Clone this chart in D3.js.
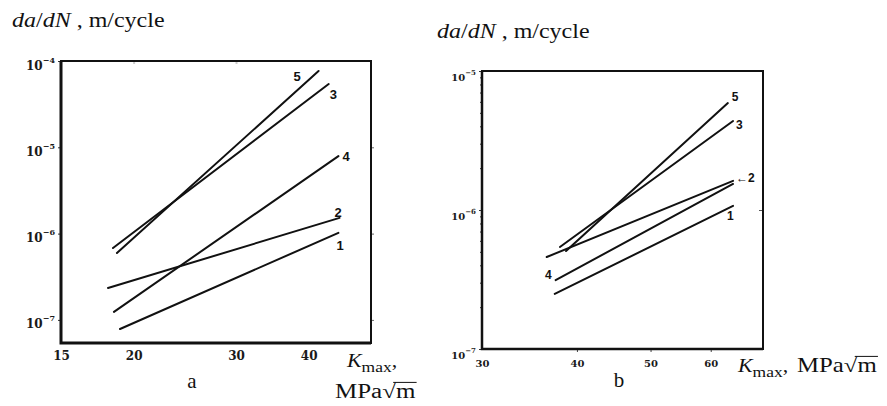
<!DOCTYPE html>
<meta charset="utf-8">
<title>da/dN vs Kmax</title>
<style>

body {
  margin: 0;
  background: #fff;
}

svg {
  display: block;
}

.serif {
  font-family: "Liberation Serif", "Times New Roman", serif;
  fill: #111;
}

.tick text {
  font-family: "DejaVu Serif", serif;
  font-weight: bold;
  fill: #1a1a1a;
}

.curve-lbl {
  font-family: "Liberation Sans", Arial, sans-serif;
  font-weight: bold;
  fill: #111;
}

</style>
<svg width="887" height="406"></svg>
<script src="https://d3js.org/d3.v7.min.js"></script>
<script>
  // curve numbers
  var curves = ["1", "2", "3", "4", "5"]

  // panel a : K_max (MPa sqrt m) and da/dN (m/cycle) at both ends of each curve
  var kStartA = [18.95, 18.07, 18.43, 18.5, 18.72]
  var kEndA = [45.0, 45.2, 43.3, 45.0, 41.6]
  var rateStartA = [7.85e-8, 2.34e-7, 6.8e-7, 1.24e-7, 5.96e-7]
  var rateEndA = [1.02e-6, 1.52e-6, 5.41e-5, 7.9e-6, 7.66e-5]
  var xTicksA = [15, 20, 30, 40]
  var yTicksA = [1e-4, 1e-5, 1e-6, 1e-7]

  // panel b
  var kStartB = [37.4, 36.5, 37.99, 37.5, 38.7]
  var kEndB = [64.2, 64.2, 64.2, 64.2, 63.2]
  var rateStartB = [2.49e-7, 4.59e-7, 5.42e-7, 3.13e-7, 5.07e-7]
  var rateEndB = [1.07e-6, 1.62e-6, 4.37e-6, 1.54e-6, 5.88e-6]
  var xTicksB = [30, 40, 50, 60]
  var yTicksB = [1e-5, 1e-6, 1e-7]

  var svg = d3.select("svg")

  var panels = [
    {
      name: "a",
      kStart: kStartA, kEnd: kEndA, rStart: rateStartA, rEnd: rateEndA,
      xTicks: xTicksA, yTicks: yTicksA,
      xDomain: [15, 51.2], yDomain: [5.4e-8, 1e-4],
      left: 61, right: 371, top: 61, bottom: 343,
      tickFont: 12, supFont: 8, yLabelX: -3, yLabelDy: 8, xLabelDy: 17,
      lblFont: 13,
      // label placement: [anchor point ("end"/"start"), dx, dy, text-anchor]
      lbl: { "1": ["end", -2, 17], "2": ["end", -5, -1], "3": ["end", 1, 15], "4": ["end", 4, 5], "5": ["end", -25, 10] },
      arrow2: false
    },
    {
      name: "b",
      kStart: kStartB, kEnd: kEndB, rStart: rateStartB, rEnd: rateEndB,
      xTicks: xTicksB, yTicks: yTicksB,
      xDomain: [30, 70.3], yDomain: [1e-7, 1e-5],
      left: 482, right: 763, top: 71, bottom: 349,
      tickFont: 10, supFont: 7, yLabelX: -3, yLabelDy: 9, xLabelDy: 18,
      lblFont: 12,
      lbl: { "1": ["end", -6, 14], "2": ["end", 3, 1], "3": ["end", 3, 8], "4": ["start", -4, -1, "end"], "5": ["end", 4, -2] },
      arrow2: true
    }
  ]

  panels.forEach(drawPanel)

  function drawPanel(p) {
    var x = d3.scaleLog().domain(p.xDomain).range([p.left, p.right])
    var y = d3.scaleLog().domain(p.yDomain).range([p.bottom, p.top])
    var g = svg.append("g").attr("class", "panel-" + p.name)

    // left ticks + labels 10^n
    var yAxis = g.append("g")
      .attr("transform", "translate(" + p.left + ",0)")
      .call(d3.axisLeft(y).tickValues(p.yTicks).tickSize(3).tickPadding(-p.yLabelX))
    yAxis.select(".domain").remove()
    yAxis.selectAll(".tick line").attr("stroke", "#333")
    yAxis.selectAll(".tick text")
      .attr("font-size", p.tickFont)
      .attr("dy", null)
      .attr("y", p.yLabelDy)
      .text(null)
      .each(function(d) {
        var t = d3.select(this)
        t.append("tspan").text("10")
        t.append("tspan")
          .attr("font-size", p.supFont)
          .attr("dy", -Math.round(p.tickFont * 0.6))
          .text("\u2212" + Math.round(-Math.log10(d)))
      })

    if (p.name == "b") {
      // minor log ticks
      var minor = []
      for (var e = -7; e < -5; e++) {
        for (var m = 2; m <= 9; m++) minor.push(m * Math.pow(10, e))
      }
      var yMinor = g.append("g")
        .attr("transform", "translate(" + p.left + ",0)")
        .call(d3.axisLeft(y).tickValues(minor).tickSize(2).tickFormat(""))
      yMinor.select(".domain").remove()
      yMinor.selectAll(".tick line").attr("stroke", "#333")

      var yRight = g.append("g")
        .attr("transform", "translate(" + p.right + ",0)")
        .call(d3.axisLeft(y).tickValues([1e-6]).tickSize(4).tickFormat(""))
      yRight.select(".domain").remove()
      yRight.selectAll(".tick line").attr("stroke", "#555")

      var xTickMarks = g.append("g")
        .attr("transform", "translate(0," + p.bottom + ")")
        .call(d3.axisBottom(x).tickValues([40, 50, 60]).tickSize(3).tickFormat(""))
      xTickMarks.select(".domain").remove()
      xTickMarks.selectAll(".tick line").attr("stroke", "#444")
    } else {
      var yRightA = g.append("g")
        .attr("transform", "translate(" + p.right + ",0)")
        .call(d3.axisRight(y).tickValues(p.yTicks.slice(1)).tickSize(3).tickFormat(""))
      yRightA.select(".domain").remove()
      yRightA.selectAll(".tick line").attr("stroke", "#666")

      var xTop = g.append("g")
        .attr("transform", "translate(0," + p.top + ")")
        .call(d3.axisBottom(x).tickValues([20, 30]).tickSize(3).tickFormat(""))
      xTop.select(".domain").remove()
      xTop.selectAll(".tick line").attr("stroke", "#ccc").attr("stroke-width", 2)
    }

    // bottom labels
    var xAxis = g.append("g")
      .attr("transform", "translate(0," + p.bottom + ")")
      .call(d3.axisBottom(x).tickValues(p.xTicks).tickSize(0).tickFormat(d3.format("d")))
    xAxis.select(".domain").remove()
    xAxis.selectAll(".tick text")
      .attr("font-size", p.tickFont)
      .attr("dy", null)
      .attr("y", p.xLabelDy)

    // frame
    g.append("rect")
      .attr("x", p.left).attr("y", p.top)
      .attr("width", p.right - p.left).attr("height", p.bottom - p.top)
      .attr("fill", "none").attr("stroke", "#111").attr("stroke-width", 2)
    g.append("path")
      .attr("d", "M" + p.left + "," + p.top + "V" + p.bottom + "H" + p.right)
      .attr("fill", "none").attr("stroke", "#111").attr("stroke-width", p.name == "a" ? 3 : 2.5)

    // curves
    var line = d3.line().x((d) => (x(d[0]))).y((d) => (y(d[1])))
    curves.forEach(function(c, i) {
      var pts = [[p.kStart[i], p.rStart[i]], [p.kEnd[i], p.rEnd[i]]]
      g.append("path")
        .attr("d", line(pts))
        .attr("fill", "none")
        .attr("stroke", "#111")
        .attr("stroke-width", 2)
        .attr("stroke-linecap", "round")

      var o = p.lbl[c]
      var pt = o[0] == "end" ? pts[1] : pts[0]
      g.append("text")
        .attr("class", "curve-lbl")
        .attr("font-size", p.lblFont)
        .attr("text-anchor", o[3] || "start")
        .attr("x", x(pt[0]) + o[1])
        .attr("y", y(pt[1]) + o[2])
        .text(c == "2" && p.arrow2 ? "\u21902" : c)
    })
  }

  // text helpers (the scan is stretched sideways, so is the lettering)
  function rateTitle(tx, ty) {
    var t = svg.append("text")
      .attr("class", "serif")
      .attr("font-size", 20)
      .attr("transform", "translate(" + tx + "," + ty + ") scale(1.2,1)")
    t.append("tspan").attr("font-style", "italic").text("da")
    t.append("tspan").text("/")
    t.append("tspan").attr("font-style", "italic").text("dN")
    t.append("tspan").text(" , m/cycle")
  }
  rateTitle(12, 27)
  rateTitle(437, 38)

  function kLabel(g, size) {
    var t = g.append("text").attr("class", "serif").attr("font-size", size)
    t.append("tspan").attr("font-style", "italic").text("K")
    t.append("tspan").attr("font-size", size * 0.8).attr("dy", 5).text("max")
    t.append("tspan").attr("dy", -5).text(",")
    return t
  }

  function unitLabel(g, size, x0) {
    var t = g.append("text").attr("class", "serif").attr("font-size", size).attr("x", x0)
      .text("MPa\u221Am")
    var s = t.node().getStartPositionOfChar(3)
    var e = t.node().getEndPositionOfChar(4)
    var w = t.node().getSubStringLength(3, 1)
    g.append("line")
      .attr("x1", s.x + w * 0.8).attr("x2", e.x + 1)
      .attr("y1", -size * 0.78).attr("y2", -size * 0.78)
      .attr("stroke", "#111").attr("stroke-width", 1)
  }

  // panel a axis title (two lines)
  var ka = svg.append("g").attr("transform", "translate(347,367) scale(1.15,1)")
  kLabel(ka, 19)
  var ua = svg.append("g").attr("transform", "translate(335,398) scale(1.25,1)")
  unitLabel(ua, 20, 0)

  // panel b axis title (one line)
  var kb = svg.append("g").attr("transform", "translate(738,372) scale(1.15,1)")
  kLabel(kb, 19)
  var ub = svg.append("g").attr("transform", "translate(797,372) scale(1.24,1)")
  unitLabel(ub, 20, 0)

  // panel letters
  svg.append("text").attr("class", "serif").attr("font-size", 21)
    .attr("text-anchor", "middle").attr("x", 192).attr("y", 388).text("a")
  svg.append("text").attr("class", "serif").attr("font-size", 21)
    .attr("text-anchor", "middle").attr("x", 619).attr("y", 387).text("b")
</script>
